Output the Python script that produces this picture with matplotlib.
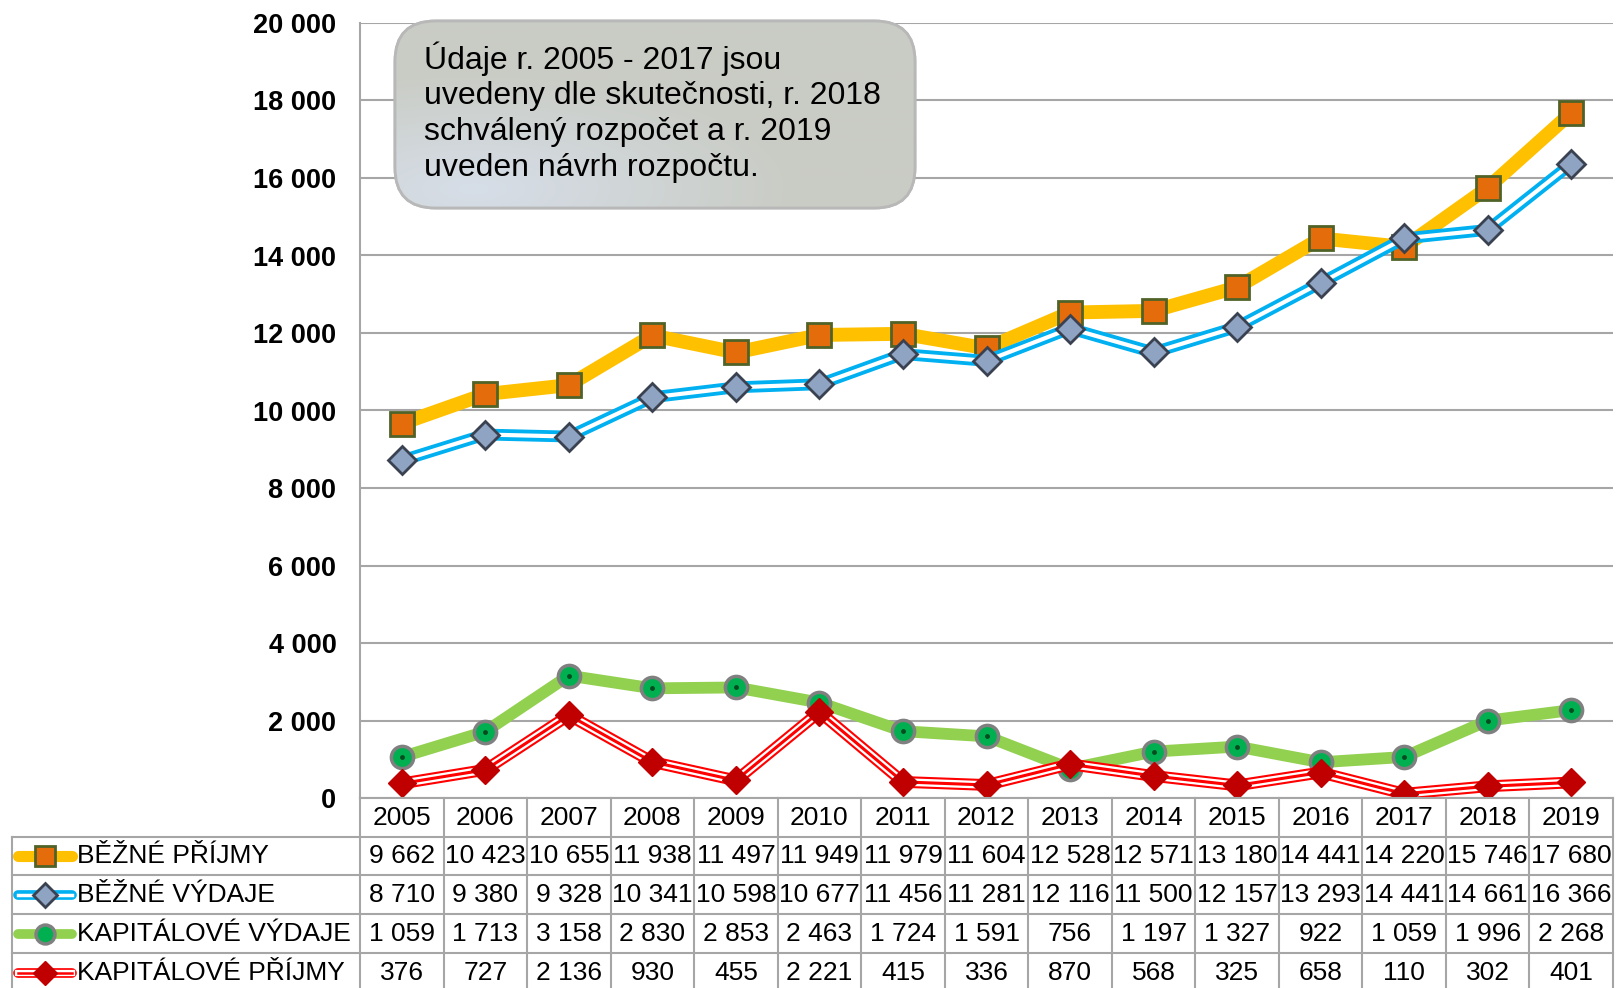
import matplotlib.pyplot as plt
import numpy as np
from matplotlib.lines import Line2D
from matplotlib.patches import FancyBboxPatch
from matplotlib.transforms import blended_transform_factory

plt.rcParams['font.family'] = ['Liberation Sans', 'DejaVu Sans']

# data
years = [2005, 2006, 2007, 2008, 2009, 2010, 2011, 2012, 2013, 2014, 2015, 2016, 2017, 2018, 2019]
bezne_prijmy = [9662, 10423, 10655, 11938, 11497, 11949, 11979, 11604, 12528, 12571, 13180, 14441, 14220, 15746, 17680]
bezne_vydaje = [8710, 9380, 9328, 10341, 10598, 10677, 11456, 11281, 12116, 11500, 12157, 13293, 14441, 14661, 16366]
kap_vydaje = [1059, 1713, 3158, 2830, 2853, 2463, 1724, 1591, 756, 1197, 1327, 922, 1059, 1996, 2268]
kap_prijmy = [376, 727, 2136, 930, 455, 2221, 415, 336, 870, 568, 325, 658, 110, 302, 401]
labels = ['BĚŽNÉ PŘÍJMY', 'BĚŽNÉ VÝDAJE', 'KAPITÁLOVÉ VÝDAJE', 'KAPITÁLOVÉ PŘÍJMY']
note = ('Údaje r. 2005 - 2017 jsou\nuvedeny dle skutečnosti, r. 2018\n'
        'schválený rozpočet a r. 2019\nuveden návrh rozpočtu.')

W, H = 1616, 988
fig = plt.figure(figsize=(W / 100, H / 100), dpi=100)
L, R, T, B = 360, 1613, 23, 798
ax = fig.add_axes([L / W, 1 - B / H, (R - L) / W, (B - T) / H])

x = np.arange(len(years))
gridc = '#a6a6a6'

# lines
ax.plot(x, bezne_prijmy, color='#ffc000', lw=10, solid_joinstyle='round', solid_capstyle='round', zorder=3)
ax.plot(x, bezne_vydaje, color='#00b0f0', lw=8.5, solid_joinstyle='round', zorder=4)
ax.plot(x, bezne_vydaje, color='white', lw=3, solid_joinstyle='round', zorder=4)
ax.plot(x, kap_vydaje, color='#92d050', lw=8.5, solid_joinstyle='round', solid_capstyle='round', zorder=5)
ax.plot(x, kap_prijmy, color='#ff0000', lw=8.5, solid_joinstyle='round', zorder=6)
ax.plot(x, kap_prijmy, color='white', lw=5.5, solid_joinstyle='round', zorder=6)
ax.plot(x, kap_prijmy, color='#ff0000', lw=2.2, solid_joinstyle='round', zorder=6)

# markers
mk = [dict(marker='s', ms=17, mfc='#e46c0a', mec='#4f6228', mew=2),
      dict(marker='D', ms=14, mfc='#8ea4c2', mec='#3a4252', mew=2),
      dict(marker='o', ms=16, mfc='#00b050', mec='#808080', mew=2.5),
      dict(marker='D', ms=14, mfc='#c00000', mec='#c00000', mew=1)]
series = [bezne_prijmy, bezne_vydaje, kap_vydaje, kap_prijmy]
for i, (s, m) in enumerate(zip(series, mk)):
    ax.plot(x, s, ls='none', zorder=3.5 + i * 1.01, **m)
# dot in the centre of the green markers
ax.plot(x, kap_vydaje, ls='none', marker='o', ms=2.5, color='#004d20', zorder=5.6)

ax.set_xlim(-0.5, len(years) - 0.5)
ax.set_ylim(0, 20000)
ax.set_yticks(range(0, 20001, 2000))
ax.set_yticklabels([f'{v:,}'.replace(',', ' ') for v in range(0, 20001, 2000)],
                   fontsize=19.5, fontweight='bold')
ax.tick_params(axis='y', length=0, pad=17)
ax.set_xticks([])
ax.yaxis.grid(True, color=gridc, lw=1.5)
ax.set_axisbelow(True)
for sp in ['top', 'right', 'bottom']:
    ax.spines[sp].set_visible(False)
ax.spines['left'].set_color(gridc)
ax.spines['left'].set_linewidth(1.5)

# note box
def fx(px):
    return px / W

def fy(py):
    return 1 - py / H

bx0, by0, bx1, by1 = 395, 21, 915, 208
rs = 'round,pad=0,rounding_size=0.025'
box = FancyBboxPatch((fx(bx0), fy(by1)), fx(bx1) - fx(bx0), fy(by0) - fy(by1),
                     boxstyle=rs, transform=fig.transFigure,
                     fc='#cbcec6', ec='#b8b8b8', lw=2, zorder=10, mutation_aspect=W / H)
fig.add_artist(box)
grad = np.linspace(0, 1, 256)
gx, gy = np.meshgrid(grad, grad)
img = np.zeros((256, 256, 3))
t = np.clip(1 - np.hypot(gx - 0.15, gy - 0.9) * 1.6, 0, 1)[..., None]
img[:] = np.array([0.79, 0.80, 0.77]) * (1 - t) + np.array([0.84, 0.87, 0.91]) * t
gimg = fig.add_axes([fx(bx0), fy(by1), fx(bx1) - fx(bx0), fy(by0) - fy(by1)], zorder=10)
gimg.imshow(img, aspect='auto', extent=(0, 1, 0, 1), origin='upper')
gimg.axis('off')
gimg.patch.set_visible(False)
clip = FancyBboxPatch((fx(bx0), fy(by1)), fx(bx1) - fx(bx0), fy(by0) - fy(by1),
                      boxstyle=rs, transform=fig.transFigure,
                      mutation_aspect=W / H, fc='none', ec='none')
gimg.images[0].set_clip_path(clip)
fig.add_artist(FancyBboxPatch((fx(bx0), fy(by1)), fx(bx1) - fx(bx0), fy(by0) - fy(by1),
                              boxstyle=rs, transform=fig.transFigure,
                              fc='none', ec='#b8b8b8', lw=2, zorder=12, mutation_aspect=W / H))
fig.text(fx(424), fy(41), note, fontsize=23, va='top', ha='left', linespacing=1.25, zorder=13)

# data table
rows_y = [798, 837, 875, 914, 953, 992]
tb = blended_transform_factory(ax.transData, fig.transFigure)

def hline(x0, x1, y):
    fig.add_artist(Line2D([fx(x0), fx(x1)], [fy(y), fy(y)], color=gridc, lw=1.5,
                          transform=fig.transFigure))

for i, y in enumerate(rows_y):
    hline(L if i == 0 else 12, R, y)
for k in range(len(years) + 1):
    fig.add_artist(Line2D([k - 0.5, k - 0.5], [fy(rows_y[0]), fy(rows_y[-1])], color=gridc,
                          lw=1.5, transform=tb))
fig.add_artist(Line2D([fx(12), fx(12)], [fy(rows_y[1]), fy(rows_y[-1])], color=gridc, lw=1.5,
                      transform=fig.transFigure))

yc = [(rows_y[i] + rows_y[i + 1]) / 2 for i in range(5)]
for k, yr in enumerate(years):
    fig.text(k, fy(yc[0]), str(yr), transform=tb, ha='center', va='center', fontsize=19)
for r, s in enumerate(series):
    for k, v in enumerate(s):
        fig.text(k, fy(yc[r + 1]), f'{v:,}'.replace(',', ' '), transform=tb,
                 ha='center', va='center', fontsize=19)
    fig.text(fx(77), fy(yc[r + 1]), labels[r], ha='left', va='center', fontsize=19)

# legend keys in table
key_styles = [
    [dict(color='#ffc000', lw=8, solid_capstyle='round')],
    [dict(color='#00b0f0', lw=7, solid_capstyle='round'), dict(color='white', lw=2.5)],
    [dict(color='#92d050', lw=7, solid_capstyle='round')],
    [dict(color='#ff0000', lw=7, solid_capstyle='round'), dict(color='white', lw=4.5),
     dict(color='#ff0000', lw=1.8)],
]
for r in range(4):
    yk = fy(yc[r + 1])
    for st in key_styles[r]:
        fig.add_artist(Line2D([fx(18), fx(72)], [yk, yk], transform=fig.transFigure, **st))
    m = dict(mk[r])
    m['ms'] = m['ms'] * 0.85
    fig.add_artist(Line2D([fx(45)], [yk], transform=fig.transFigure, ls='none', **m))

fig.savefig('out.png', dpi=100)
